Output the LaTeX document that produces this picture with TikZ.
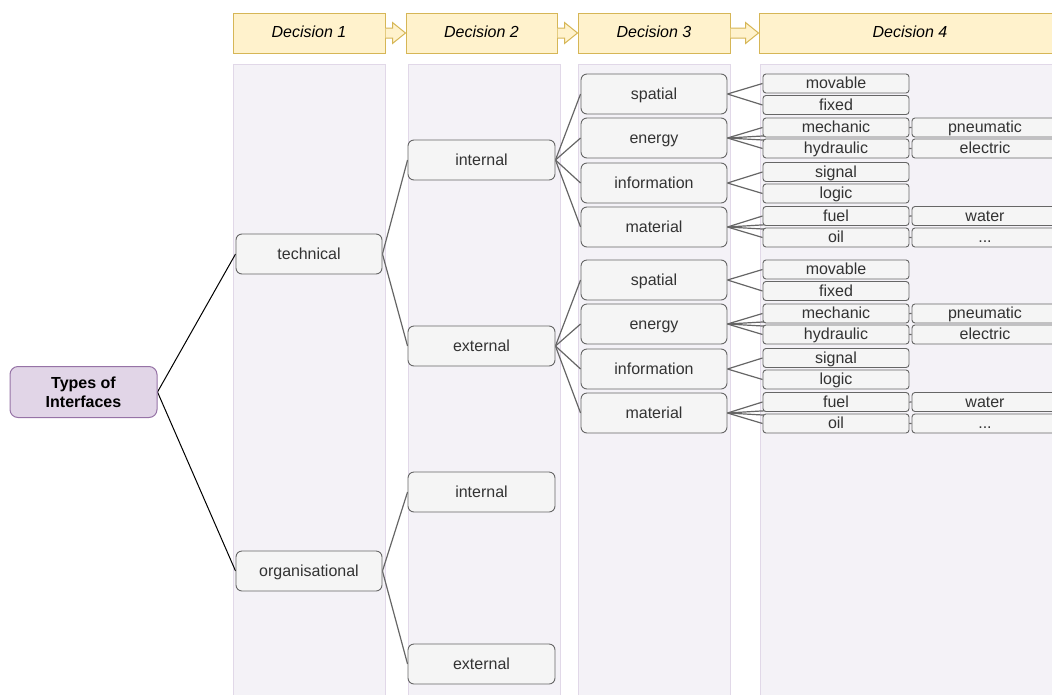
\documentclass[tikz,border=0pt]{standalone}
\usepackage{fontspec}
\setmainfont{Liberation Sans}
\usetikzlibrary{calc}
\definecolor{hdrfill}{HTML}{FFF2CC}
\definecolor{hdrline}{HTML}{D6B656}
\definecolor{colfill}{HTML}{F4F2F7}
\definecolor{colline}{HTML}{E1D8E8}
\definecolor{boxfill}{HTML}{F5F5F5}
\definecolor{boxline}{HTML}{666666}
\definecolor{rootfill}{HTML}{E1D5E7}
\definecolor{rootline}{HTML}{9673A6}
\definecolor{txt}{HTML}{333333}
\pgfdeclarelayer{bg}
\pgfdeclarelayer{links}
\pgfsetlayers{bg,links,main}
\tikzset{
  every node/.style={font=\fontsize{16}{19}\selectfont, text=txt, inner sep=0pt},
  hdr/.style={draw=hdrline, fill=hdrfill, line width=1pt, minimum height=40pt,
    text height=12pt, text depth=3.4pt,
    font=\fontsize{16}{19}\selectfont\itshape, text=black},
  panel/.style={draw=colline, fill=colfill, line width=1pt},
  box/.style={draw=boxline, fill=boxfill, rounded corners=6pt, line width=0.9pt,
    minimum width=146pt, minimum height=40pt, text height=12pt, text depth=1.2pt},
  leaf/.style={draw=boxline, fill=boxfill, rounded corners=3pt, line width=0.9pt,
    minimum width=146pt, minimum height=19pt, text height=12pt, text depth=2pt},
  root/.style={draw=rootline, fill=rootfill, rounded corners=8pt, line width=1pt,
    minimum width=147pt, minimum height=51pt, align=center,
    font=\fontsize{16}{19}\selectfont\bfseries, text=black},
  link/.style={draw=boxline, line width=1.2pt},
  rootlink/.style={draw=black, line width=1pt},
  blockarrow/.style={draw=hdrline, fill=hdrfill, line width=1pt}
}
\begin{document}
\begin{tikzpicture}[x=1pt,y=-1pt]
  \useasboundingbox (0,0) rectangle (1052,694);
  % columns
  \begin{pgfonlayer}{bg}
    \foreach \l/\r in {233/385, 408/560, 578/730, 760/1062}
      \draw[panel] (\l,64) rectangle (\r,704);
  \end{pgfonlayer}

  % headers
  \node[hdr, minimum width=152pt] (d1) at (309,33) {Decision 1};
  \node[hdr, minimum width=151pt] (d2) at (481.5,33) {Decision 2};
  \node[hdr, minimum width=152pt] (d3) at (654,33) {Decision 3};
  \node[hdr, minimum width=302pt] (d4) at (910,33) {Decision 4};
  \foreach \a/\b in {d1/d2, d2/d3, d3/d4}
    \draw[blockarrow] let \p1=(\a.east), \p2=(\b.west) in
      (\x1,\y1+5pt) -- (\x2-13pt,\y1+5pt) -- (\x2-13pt,\y1+10.5pt) -- (\x2,\y1)
      -- (\x2-13pt,\y1-10.5pt) -- (\x2-13pt,\y1-5pt) -- (\x1,\y1-5pt);

  \node[root] (r) at (83.5,392) {Types of\\Interfaces};

  \node[box] (t) at (309,254) {technical};
  \node[box] (o) at (309,571) {organisational};

  \node[box, minimum width=147pt] (ti) at (481.5,160) {internal};
  \node[box, minimum width=147pt] (te) at (481.5,346) {external};
  \node[box, minimum width=147pt] (oi) at (481.5,492) {internal};
  \node[box, minimum width=147pt] (oe) at (481.5,664) {external};

  \begin{pgfonlayer}{links}
    \draw[rootlink] (r.east) -- (t.west);
    \draw[rootlink] (r.east) -- (o.west);
    \foreach \from/\to in {t/ti, t/te, o/oi, o/oe}
      \draw[link] (\from.east) -- (\to.west);
  \end{pgfonlayer}

  % technical groups
  \foreach \g/\dy in {ti/0, te/186} {
    \node[box] (\g-sp) at (654,94+\dy) {spatial};
    \node[box] (\g-en) at (654,138+\dy) {energy};
    \node[box] (\g-inf) at (654,183+\dy) {information};
    \node[box] (\g-ma) at (654,227+\dy) {material};

    \node[leaf] (\g-mo) at (836,83.5+\dy) {movable};
    \node[leaf] (\g-fi) at (836,105+\dy) {fixed};
    \node[leaf] (\g-me) at (836,127.5+\dy) {mechanic};
    \node[leaf] (\g-hy) at (836,148.5+\dy) {hydraulic};
    \node[leaf] (\g-pn) at (985,127.5+\dy) {pneumatic};
    \node[leaf] (\g-el) at (985,148.5+\dy) {electric};
    \node[leaf] (\g-si) at (836,172+\dy) {signal};
    \node[leaf] (\g-lo) at (836,193.5+\dy) {logic};
    \node[leaf] (\g-fu) at (836,216+\dy) {fuel};
    \node[leaf] (\g-oil) at (836,237.5+\dy) {oil};
    \node[leaf] (\g-wa) at (985,216+\dy) {water};
    \node[leaf] (\g-etc) at (985,237.5+\dy) {...};

    \begin{pgfonlayer}{links}
      \foreach \to in {sp, en, inf, ma}
        \draw[link] (\g.east) -- (\g-\to.west);
      \foreach \from/\to in {sp/mo, sp/fi, en/me, en/hy, en/pn, en/el,
        inf/si, inf/lo, ma/fu, ma/oil, ma/wa, ma/etc}
        \draw[link] (\g-\from.east) -- (\g-\to.west);
    \end{pgfonlayer}
  }
\end{tikzpicture}
\end{document}
